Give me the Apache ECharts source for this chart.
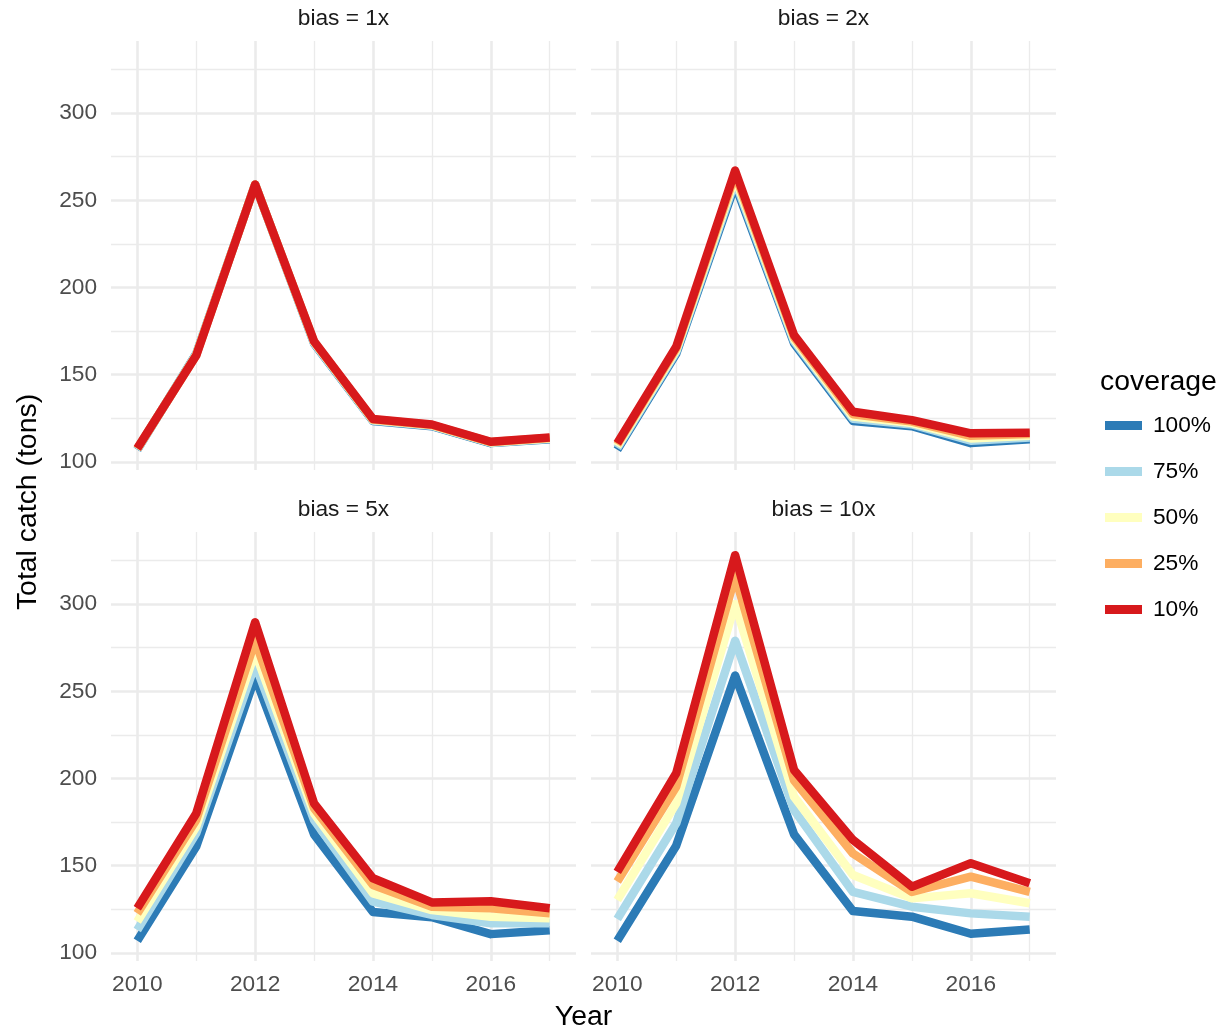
<!DOCTYPE html>
<html>
<head>
<meta charset="utf-8">
<script src="https://cdn.jsdelivr.net/npm/echarts@6/dist/echarts.min.js"></script>
<style>
  html, body { margin: 0; padding: 0; background: #ffffff; }
  #chart { width: 1228px; height: 1036px; }
</style>
</head>
<body>
<div id="chart"></div>
<script>
// Years on the x axis and the tick labels shown on each axis
const years = [2010, 2011, 2012, 2013, 2014, 2015, 2016, 2017];
const xTickLabels = [2010, 2012, 2014, 2016];
const yTickLabels = [100, 150, 200, 250, 300];

// Observer coverage levels (drawn in this order, 10% on top)
const coverageLevels = ['100%', '75%', '50%', '25%', '10%'];
const coverageColors = ['#2C7BB6', '#ABD9E9', '#FFFFBF', '#FDAE61', '#D7191C'];

// Facet titles
const biasLabels = ['bias = 1x', 'bias = 2x', 'bias = 5x', 'bias = 10x'];

// Total catch (tons) per year — bias = 1x
const bias1_cov100 = [107, 162, 259, 168, 123.5, 120.5, 110.8, 113];
const bias1_cov75  = [107.2, 161.8, 259, 168.3, 123.8, 120.8, 111, 113.3];
const bias1_cov50  = [107.4, 161.5, 259, 168.6, 124, 121, 111.2, 113.5];
const bias1_cov25  = [107.6, 161.2, 259, 168.9, 124.3, 121.2, 111.4, 113.8];
const bias1_cov10  = [107.8, 161, 259, 169.2, 124.6, 121.5, 111.6, 114];

// bias = 2x
const bias2_cov100 = [107, 162, 259, 168, 123.5, 120.5, 110.8, 113];
const bias2_cov75  = [108, 163, 261, 169.2, 124.8, 121.5, 112.2, 114];
const bias2_cov50  = [109, 164, 263, 170.4, 126, 122.3, 113.5, 115];
const bias2_cov25  = [110, 165, 265, 171.6, 127.4, 123.2, 115, 116];
const bias2_cov10  = [110.7, 166, 267, 172.7, 128.8, 124, 116.4, 116.8];

// bias = 5x
const bias5_cov100 = [107, 161, 258, 168, 123.5, 120.5, 110.8, 113];
const bias5_cov75  = [113.2, 168.6, 265.5, 176.2, 129.4, 121.8, 117, 117];
const bias5_cov50  = [118, 172.4, 272.5, 180, 134.2, 124.6, 120.8, 119.9];
const bias5_cov25  = [122.7, 176.2, 279, 183, 139, 126.5, 125.6, 122.7];
const bias5_cov10  = [125.6, 180, 289.5, 185.8, 142.8, 129, 129.6, 125.6];

// bias = 10x
const bias10_cov100 = [107, 161.5, 259, 168, 124, 120.8, 111, 113.5];
const bias10_cov75  = [119.5, 174.3, 279, 182, 135, 126.5, 122.7, 120.8];
const bias10_cov50  = [130.4, 185.8, 300, 189.6, 144.7, 131.3, 134.2, 128.5];
const bias10_cov25  = [141, 195.3, 316, 199, 157, 135, 143.7, 135];
const bias10_cov10  = [146.5, 203, 328, 204.9, 164.8, 138, 151.4, 140];

const panels = [
  [bias1_cov100, bias1_cov75, bias1_cov50, bias1_cov25, bias1_cov10],
  [bias2_cov100, bias2_cov75, bias2_cov50, bias2_cov25, bias2_cov10],
  [bias5_cov100, bias5_cov75, bias5_cov50, bias5_cov25, bias5_cov10],
  [bias10_cov100, bias10_cov75, bias10_cov50, bias10_cov25, bias10_cov10]
];

// ---- layout ----
const FONT = '"Liberation Sans", Arial, Helvetica, sans-serif';
const panelW = 465, panelH = 429;
const panelPos = [
  { left: 111, top: 41 },
  { left: 591, top: 41 },
  { left: 111, top: 532 },
  { left: 591, top: 532 }
];
const xMin = 2009.554, xMax = 2017.446;
const yMin = 95.4, yMax = 341.3;
const GRID_COLOR = '#EBEBEB';

// background grid lines drawn in data coordinates
function gridLines() {
  const items = [];
  for (let v = 100; v <= 325; v += 25) {
    const major = v % 50 === 0;
    items.push({ yAxis: v, lineStyle: { color: GRID_COLOR, width: major ? 2.6 : 1.3, type: 'solid' } });
  }
  years.forEach(y => {
    const major = y % 2 === 0;
    items.push({ xAxis: y, lineStyle: { color: GRID_COLOR, width: major ? 2.6 : 1.3, type: 'solid' } });
  });
  return items;
}

const grids = [], xAxes = [], yAxes = [], series = [], graphics = [];

panelPos.forEach((p, i) => {
  grids.push({ left: p.left, top: p.top, width: panelW, height: panelH, containLabel: false });
  const bottomRow = i >= 2;
  const leftCol = i % 2 === 0;
  xAxes.push({
    type: 'value', gridIndex: i, min: xMin, max: xMax,
    axisLine: { show: false }, axisTick: { show: false }, splitLine: { show: false },
    axisLabel: {
      show: bottomRow, customValues: xTickLabels, margin: 12,
      color: '#4D4D4D', fontSize: 22.7, fontFamily: FONT,
      formatter: v => String(Math.round(v))
    }
  });
  yAxes.push({
    type: 'value', gridIndex: i, min: yMin, max: yMax,
    axisLine: { show: false }, axisTick: { show: false }, splitLine: { show: false },
    axisLabel: {
      show: leftCol, customValues: yTickLabels, margin: 14,
      color: '#4D4D4D', fontSize: 22.7, fontFamily: FONT,
      formatter: v => String(Math.round(v))
    }
  });

  panels[i].forEach((vals, j) => {
    const s = {
      type: 'line', name: coverageLevels[j],
      xAxisIndex: i, yAxisIndex: i,
      data: years.map((yr, k) => [yr, vals[k]]),
      showSymbol: false, symbol: 'none',
      z: 3 + j,
      color: coverageColors[j],
      itemStyle: { color: coverageColors[j] },
      lineStyle: { color: coverageColors[j], width: 8.5, cap: 'butt', join: 'round' },
      emphasis: { disabled: true },
      animation: false
    };
    if (j === 0) {
      s.markLine = {
        silent: true, symbol: ['none', 'none'], z: 1,
        label: { show: false }, emphasis: { disabled: true },
        animation: false,
        data: gridLines()
      };
    }
    series.push(s);
  });

  // facet strip title
  graphics.push({
    type: 'text', x: p.left + panelW / 2, y: p.top - 22,
    style: {
      text: biasLabels[i], fill: '#1A1A1A', font: '22.7px ' + FONT,
      textAlign: 'center', textVerticalAlign: 'middle'
    }
  });
});

// axis titles and legend title
graphics.push({
  type: 'text', x: 583.5, y: 1017,
  style: { text: 'Year', fill: '#000000', font: '28.4px ' + FONT, textAlign: 'center', textVerticalAlign: 'middle' }
});
graphics.push({
  type: 'text', x: 28.5, y: 502, rotation: Math.PI / 2,
  style: { text: 'Total catch (tons)', fill: '#000000', font: '28.4px ' + FONT, textAlign: 'center', textVerticalAlign: 'middle' }
});
graphics.push({
  type: 'text', x: 1100, y: 382,
  style: { text: 'coverage', fill: '#000000', font: '28.4px ' + FONT, textAlign: 'left', textVerticalAlign: 'middle' }
});

const chart = echarts.init(document.getElementById('chart'), null, { renderer: 'canvas' });
chart.setOption({
  animation: false,
  backgroundColor: '#ffffff',
  grid: grids,
  xAxis: xAxes,
  yAxis: yAxes,
  legend: {
    data: coverageLevels,
    orient: 'vertical',
    left: 1105, top: 412.5,
    padding: 0,
    icon: 'rect',
    itemWidth: 37, itemHeight: 9,
    itemGap: 20,
    selectedMode: false,
    textStyle: { fontSize: 22.7, fontFamily: FONT, color: '#000000', lineHeight: 26, padding: [0, 0, 0, 6] }
  },
  graphic: graphics,
  series: series
});
</script>
</body>
</html>
